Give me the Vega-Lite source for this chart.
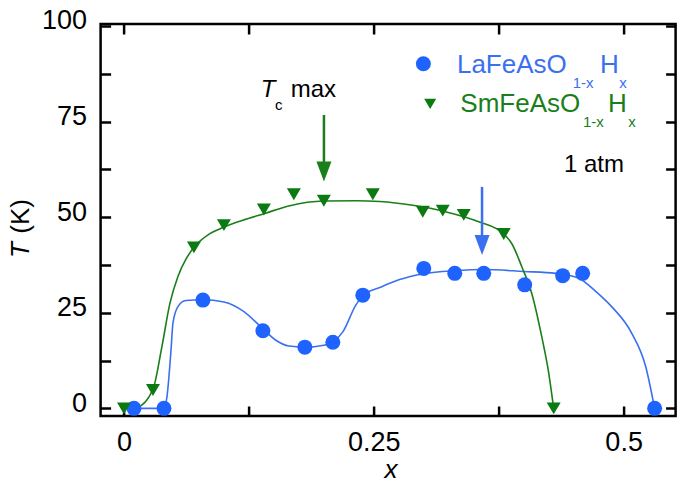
{
  "$schema": "https://vega.github.io/schema/vega-lite/v6.json",
  "width": 575,
  "height": 392,
  "autosize": "none",
  "padding": {"left": 100.6, "top": 24, "right": 9.4, "bottom": 71},
  "background": "white",
  "config": {
    "view": {"stroke": "#000", "strokeWidth": 2.5},
    "font": "Liberation Sans",
    "text": {"font": "Liberation Sans"}
  },
  "datasets": {
    "pts": [
      {"series": "La", "x": 0.01, "T": 0},
      {"series": "La", "x": 0.04, "T": 0},
      {"series": "La", "x": 0.079, "T": 28.3},
      {"series": "La", "x": 0.139, "T": 20.3},
      {"series": "La", "x": 0.181, "T": 16.0},
      {"series": "La", "x": 0.209, "T": 17.3},
      {"series": "La", "x": 0.239, "T": 29.6},
      {"series": "La", "x": 0.300, "T": 36.6},
      {"series": "La", "x": 0.331, "T": 35.3},
      {"series": "La", "x": 0.360, "T": 35.3},
      {"series": "La", "x": 0.401, "T": 32.3},
      {"series": "La", "x": 0.439, "T": 34.7},
      {"series": "La", "x": 0.459, "T": 35.3},
      {"series": "La", "x": 0.531, "T": 0},
      {"series": "Sm", "x": 0.0, "T": 0},
      {"series": "Sm", "x": 0.029, "T": 4.8},
      {"series": "Sm", "x": 0.070, "T": 42.1},
      {"series": "Sm", "x": 0.100, "T": 47.9},
      {"series": "Sm", "x": 0.140, "T": 52.0},
      {"series": "Sm", "x": 0.170, "T": 56.0},
      {"series": "Sm", "x": 0.200, "T": 54.3},
      {"series": "Sm", "x": 0.249, "T": 56.0},
      {"series": "Sm", "x": 0.299, "T": 51.4},
      {"series": "Sm", "x": 0.319, "T": 51.7},
      {"series": "Sm", "x": 0.340, "T": 50.6},
      {"series": "Sm", "x": 0.380, "T": 45.6},
      {"series": "Sm", "x": 0.430, "T": 0}
    ],
    "curves": [
      {"series": "La", "x": 0.01, "T": 0},
      {"series": "La", "x": 0.040, "T": 0},
      {"series": "La", "x": 0.043, "T": 3},
      {"series": "La", "x": 0.047, "T": 15},
      {"series": "La", "x": 0.049, "T": 22.3},
      {"series": "La", "x": 0.054, "T": 26.6},
      {"series": "La", "x": 0.062, "T": 28.2},
      {"series": "La", "x": 0.079, "T": 28.4},
      {"series": "La", "x": 0.100, "T": 27.8},
      {"series": "La", "x": 0.120, "T": 25.3},
      {"series": "La", "x": 0.139, "T": 20.8},
      {"series": "La", "x": 0.152, "T": 17.8},
      {"series": "La", "x": 0.165, "T": 16.3},
      {"series": "La", "x": 0.181, "T": 16.0},
      {"series": "La", "x": 0.200, "T": 16.5},
      {"series": "La", "x": 0.209, "T": 17.4},
      {"series": "La", "x": 0.219, "T": 20.0},
      {"series": "La", "x": 0.232, "T": 27.0},
      {"series": "La", "x": 0.240, "T": 29.7},
      {"series": "La", "x": 0.256, "T": 31.6},
      {"series": "La", "x": 0.275, "T": 33.6},
      {"series": "La", "x": 0.300, "T": 35.2},
      {"series": "La", "x": 0.331, "T": 36.0},
      {"series": "La", "x": 0.360, "T": 36.3},
      {"series": "La", "x": 0.400, "T": 35.8},
      {"series": "La", "x": 0.432, "T": 35.3},
      {"series": "La", "x": 0.455, "T": 34.0},
      {"series": "La", "x": 0.472, "T": 30.6},
      {"series": "La", "x": 0.488, "T": 26.6},
      {"series": "La", "x": 0.508, "T": 19.7},
      {"series": "La", "x": 0.522, "T": 11.0},
      {"series": "La", "x": 0.531, "T": 0},
      {"series": "Sm", "x": 0.0, "T": 0},
      {"series": "Sm", "x": 0.013, "T": 0.3},
      {"series": "Sm", "x": 0.029, "T": 5.0},
      {"series": "Sm", "x": 0.038, "T": 16.2},
      {"series": "Sm", "x": 0.046, "T": 27.5},
      {"series": "Sm", "x": 0.054, "T": 34.5},
      {"series": "Sm", "x": 0.062, "T": 39.0},
      {"series": "Sm", "x": 0.070, "T": 42.1},
      {"series": "Sm", "x": 0.086, "T": 45.7},
      {"series": "Sm", "x": 0.100, "T": 47.4},
      {"series": "Sm", "x": 0.119, "T": 49.2},
      {"series": "Sm", "x": 0.140, "T": 50.9},
      {"series": "Sm", "x": 0.166, "T": 53.0},
      {"series": "Sm", "x": 0.200, "T": 54.2},
      {"series": "Sm", "x": 0.232, "T": 54.3},
      {"series": "Sm", "x": 0.256, "T": 54.1},
      {"series": "Sm", "x": 0.289, "T": 53.1},
      {"series": "Sm", "x": 0.322, "T": 51.4},
      {"series": "Sm", "x": 0.355, "T": 48.8},
      {"series": "Sm", "x": 0.380, "T": 45.6},
      {"series": "Sm", "x": 0.388, "T": 43.1},
      {"series": "Sm", "x": 0.398, "T": 37.1},
      {"series": "Sm", "x": 0.408, "T": 30.1},
      {"series": "Sm", "x": 0.418, "T": 18.8},
      {"series": "Sm", "x": 0.425, "T": 9.3},
      {"series": "Sm", "x": 0.430, "T": 0}
    ],
    "arrows": [
      {"series": "Sm", "x": 0.2001, "top": 76.7, "head": 61.9},
      {"series": "La", "x": 0.3583, "top": 57.9, "head": 42.7}
    ],
    "legendMarks": [
      {"series": "La", "x": 0.2996, "T": 90.1},
      {"series": "Sm", "x": 0.3064, "T": 79.6}
    ],
    "legendMain": [
      {"series": "La", "x": 0.3332, "T": 87.77, "text": "LaFeAsO"},
      {"series": "La", "x": 0.4763, "T": 87.77, "text": "H"},
      {"series": "Sm", "x": 0.3366, "T": 77.41, "text": "SmFeAsO"},
      {"series": "Sm", "x": 0.4843, "T": 77.41, "text": "H"}
    ],
    "legendSub": [
      {"series": "La", "x": 0.4491, "T": 83.71, "text": "1-x"},
      {"series": "La", "x": 0.4956, "T": 83.71, "text": "x"},
      {"series": "Sm", "x": 0.4593, "T": 73.46, "text": "1-x"},
      {"series": "Sm", "x": 0.5046, "T": 73.46, "text": "x"}
    ],
    "notes": [
      {"x": 0.4403, "T": 61.88, "text": "1 atm"},
      {"x": 0.1668, "T": 81.33, "text": "max"}
    ],
    "notesItalic": [
      {"x": 0.1368, "T": 81.33, "text": "T"}
    ],
    "notesSub": [
      {"x": 0.1511, "T": 78.01, "text": "c"}
    ],
    "xTitle": [
      {"x": 0.2672, "T": -18.1, "text": "x"}
    ],
    "yTitleItalic": [
      {"x": -0.0955, "T": 41.4, "text": "T"}
    ],
    "yTitle": [
      {"x": -0.0955, "T": 50.2, "text": "(K)"}
    ]
  },
  "resolve": {"axis": {"x": "independent", "y": "independent"}},
  "layer": [
    {
      "data": {"name": "curves"},
      "mark": {"type": "line", "interpolate": "monotone", "strokeWidth": 1.6},
      "encoding": {
        "x": {"field": "x", "type": "quantitative",
              "scale": {"domain": [-0.0234, 0.552], "nice": false, "zero": false},
              "axis": {"orient": "bottom", "values": [0, 0.125, 0.25, 0.375, 0.5],
                       "labelExpr": "datum.value == 0 ? '0' : datum.value == 0.25 ? '0.25' : datum.value == 0.5 ? '0.5' : ''",
                       "domain": false, "grid": false, "ticks": true, "tickSize": -10, "tickWidth": 2.5, "tickColor": "#000",
                       "labelFont": "Liberation Sans", "labelFontSize": 27, "labelColor": "#000",
                       "labelPadding": 23, "labelFlush": false, "labelOverlap": false, "title": null}},
        "y": {"field": "T", "type": "quantitative",
              "scale": {"domain": [-2, 100.5], "nice": false, "zero": false},
              "axis": {"orient": "left", "values": [0, 12.5, 25, 37.5, 50, 62.5, 75, 87.5, 100],
                       "labelExpr": "datum.value % 25 == 0 ? datum.label : ''",
                       "domain": false, "grid": false, "ticks": true, "tickSize": -10, "tickWidth": 2.5, "tickColor": "#000",
                       "labelFont": "Liberation Sans", "labelFontSize": 27, "labelColor": "#000",
                       "labelPadding": 24, "labelOffset": -5, "labelFlush": false, "labelOverlap": false, "labelBound": false, "title": null}},
        "color": {"field": "series", "type": "nominal",
                  "scale": {"domain": ["La", "Sm"], "range": ["#3a70f0", "#1a7f1a"]}, "legend": null},
        "detail": {"field": "series"}
      }
    },
    {
      "data": {"name": "pts"},
      "transform": [{"filter": "datum.series == 'La'"}],
      "mark": {"type": "point", "shape": "circle", "filled": true, "opacity": 1, "size": 225, "color": "#1f63ff"},
      "encoding": {
        "x": {"field": "x", "type": "quantitative",
              "axis": {"orient": "top", "values": [0, 0.125, 0.25, 0.375, 0.5], "labels": false,
                       "domain": false, "grid": false, "tickSize": -10, "tickWidth": 2.5, "tickColor": "#000", "title": null}},
        "y": {"field": "T", "type": "quantitative",
              "axis": {"orient": "right", "values": [0, 12.5, 25, 37.5, 50, 62.5, 75, 87.5, 100], "labels": false,
                       "domain": false, "grid": false, "tickSize": -10, "tickWidth": 2.5, "tickColor": "#000", "title": null}}
      }
    },
    {
      "data": {"name": "pts"},
      "transform": [{"filter": "datum.series == 'Sm'"}],
      "mark": {"type": "point", "shape": "M-1,-0.85L1,-0.85L0,0.85Z", "filled": true, "opacity": 1, "size": 196, "color": "#0b7a12"},
      "encoding": {
        "x": {"field": "x", "type": "quantitative", "axis": null},
        "y": {"field": "T", "type": "quantitative", "axis": null}
      }
    },
    {
      "data": {"name": "arrows"},
      "mark": {"type": "rule", "strokeWidth": 2.5},
      "encoding": {
        "x": {"field": "x", "type": "quantitative", "axis": null},
        "y": {"field": "top", "type": "quantitative", "axis": null},
        "y2": {"field": "head"},
        "color": {"field": "series", "type": "nominal", "scale": {"domain": ["La", "Sm"], "range": ["#3a70f0", "#1a7f1a"]}, "legend": null}
      }
    },
    {
      "data": {"name": "arrows"},
      "mark": {"type": "point", "shape": "M-0.75,-1L0.75,-1L0,1Z", "filled": true, "opacity": 1, "size": 400},
      "encoding": {
        "x": {"field": "x", "type": "quantitative", "axis": null},
        "y": {"field": "head", "type": "quantitative", "axis": null},
        "color": {"field": "series", "type": "nominal", "scale": {"domain": ["La", "Sm"], "range": ["#3a70f0", "#1a7f1a"]}, "legend": null}
      }
    },
    {
      "data": {"name": "legendMarks"},
      "transform": [{"filter": "datum.series == 'La'"}],
      "mark": {"type": "point", "shape": "circle", "filled": true, "opacity": 1, "size": 225, "color": "#1f63ff"},
      "encoding": {
        "x": {"field": "x", "type": "quantitative", "axis": null},
        "y": {"field": "T", "type": "quantitative", "axis": null}
      }
    },
    {
      "data": {"name": "legendMarks"},
      "transform": [{"filter": "datum.series == 'Sm'"}],
      "mark": {"type": "point", "shape": "M-1,-0.85L1,-0.85L0,0.85Z", "filled": true, "opacity": 1, "size": 144, "color": "#0b7a12"},
      "encoding": {
        "x": {"field": "x", "type": "quantitative", "axis": null},
        "y": {"field": "T", "type": "quantitative", "axis": null}
      }
    },
    {
      "data": {"name": "legendMain"},
      "mark": {"type": "text", "align": "left", "baseline": "alphabetic", "fontSize": 26, "font": "Liberation Sans"},
      "encoding": {
        "x": {"field": "x", "type": "quantitative", "axis": null},
        "y": {"field": "T", "type": "quantitative", "axis": null},
        "text": {"field": "text"},
        "color": {"field": "series", "type": "nominal", "scale": {"domain": ["La", "Sm"], "range": ["#3f6ff2", "#249028"]}, "legend": null}
      }
    },
    {
      "data": {"name": "legendSub"},
      "mark": {"type": "text", "align": "left", "baseline": "alphabetic", "fontSize": 15, "font": "Liberation Sans"},
      "encoding": {
        "x": {"field": "x", "type": "quantitative", "axis": null},
        "y": {"field": "T", "type": "quantitative", "axis": null},
        "text": {"field": "text"},
        "color": {"field": "series", "type": "nominal", "scale": {"domain": ["La", "Sm"], "range": ["#3f6ff2", "#249028"]}, "legend": null}
      }
    },
    {
      "data": {"name": "notes"},
      "mark": {"type": "text", "align": "left", "baseline": "alphabetic", "fontSize": 24, "font": "Liberation Sans", "color": "#000"},
      "encoding": {
        "x": {"field": "x", "type": "quantitative", "axis": null},
        "y": {"field": "T", "type": "quantitative", "axis": null},
        "text": {"field": "text"}
      }
    },
    {
      "data": {"name": "notesItalic"},
      "mark": {"type": "text", "align": "left", "baseline": "alphabetic", "fontSize": 24, "fontStyle": "italic", "font": "Liberation Sans", "color": "#000"},
      "encoding": {
        "x": {"field": "x", "type": "quantitative", "axis": null},
        "y": {"field": "T", "type": "quantitative", "axis": null},
        "text": {"field": "text"}
      }
    },
    {
      "data": {"name": "notesSub"},
      "mark": {"type": "text", "align": "left", "baseline": "alphabetic", "fontSize": 15, "font": "Liberation Sans", "color": "#000"},
      "encoding": {
        "x": {"field": "x", "type": "quantitative", "axis": null},
        "y": {"field": "T", "type": "quantitative", "axis": null},
        "text": {"field": "text"}
      }
    },
    {
      "data": {"name": "xTitle"},
      "mark": {"type": "text", "align": "center", "baseline": "alphabetic", "fontSize": 26, "fontStyle": "italic", "font": "Liberation Sans", "color": "#000"},
      "encoding": {
        "x": {"field": "x", "type": "quantitative", "axis": null},
        "y": {"field": "T", "type": "quantitative", "axis": null},
        "text": {"field": "text"}
      }
    },
    {
      "data": {"name": "yTitleItalic"},
      "mark": {"type": "text", "align": "center", "baseline": "alphabetic", "angle": 270, "fontSize": 26, "fontStyle": "italic", "font": "Liberation Sans", "color": "#000"},
      "encoding": {
        "x": {"field": "x", "type": "quantitative", "axis": null},
        "y": {"field": "T", "type": "quantitative", "axis": null},
        "text": {"field": "text"}
      }
    },
    {
      "data": {"name": "yTitle"},
      "mark": {"type": "text", "align": "center", "baseline": "alphabetic", "angle": 270, "fontSize": 26, "font": "Liberation Sans", "color": "#000"},
      "encoding": {
        "x": {"field": "x", "type": "quantitative", "axis": null},
        "y": {"field": "T", "type": "quantitative", "axis": null},
        "text": {"field": "text"}
      }
    }
  ]
}
